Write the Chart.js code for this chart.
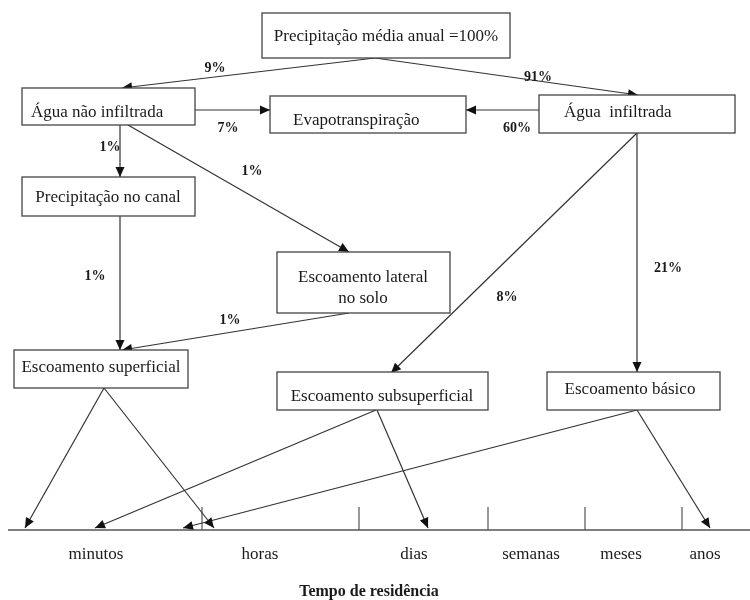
<!DOCTYPE html>
<html>
<head>
<meta charset="utf-8">
<script src="https://cdn.jsdelivr.net/npm/chart.js@4/dist/chart.umd.min.js"></script>
<style>
html,body{margin:0;padding:0;background:#fff;}
canvas{display:block;}
</style>
</head>
<body>
<canvas id="c" width="750" height="600"></canvas>
<script>
// ---- data ----
const nodeNames = [
  'Precipitação média anual =100%',
  'Água não infiltrada',
  'Evapotranspiração',
  'Água  infiltrada',
  'Precipitação no canal',
  'Escoamento lateral\nno solo',
  'Escoamento superficial',
  'Escoamento subsuperficial',
  'Escoamento básico'
];
const flowFrom    = [0, 0, 1, 3, 1, 1, 4, 5, 3, 3];
const flowTo      = [1, 3, 2, 2, 4, 5, 6, 6, 7, 8];
const flowPercent = ['9%', '91%', '7%', '60%', '1%', '1%', '1%', '1%', '8%', '21%'];
const timeLabels  = ['minutos', 'horas', 'dias', 'semanas', 'meses', 'anos'];
const residenceFrom = [6, 6, 7, 7, 8, 8];
const residenceTo   = [0, 1, 0, 2, 1, 5];
const axisTitle = 'Tempo de residência';

// ---- layout (diagram coordinates) ----
const nodeBox = [[262,13,510,58],[22,88,195,125],[270,96,466,133],[539,95,735,133],[22,177,195,216],[277,252,450,313],[14,350,188,388],[277,372,488,410],[547,372,720,410]];
const nodeTextPos = [[386,37,'center'],[31,113,'left'],[293,121,'left'],[564,113,'left'],[108,198,'center'],[363,278,'center'],[101,368,'center'],[382,397,'center'],[630,390,'center']];
const flowLine = [[375,58,122,88],[375,58,638,95],[195,110,270,110],[539,110,466,110],[120,125,120,177],[128,125,349,252],[120,216,120,350],[349,313,122,350],[637,133,391,373],[637,133,637,372]];
const flowLabelPos = [[215,68],[538,77],[228,128],[517,128],[110,147],[252,171],[95,276],[230,320],[507,297],[668,268]];
const residenceStart = [[104,388],[104,388],[376,410],[377,410],[637,410],[637,410]];
const timeLabelX = [96,260,414,531,621,705];
const timeTickX = [202,359,488,585,682];
const axisY = 530, axisX0 = 8, axisX1 = 750, tickTop = 507, labelY = 555;
const titlePos = [369,592];
const lineColor = '#333';
const textColor = '#1a1a1a';

// build line datasets through the scales
const datasets = [];
flowLine.forEach((l,i)=>{
  datasets.push({label: flowPercent[i], data:[{x:l[0],y:l[1]},{x:l[2],y:l[3]}], showLine:true, borderColor:lineColor, borderWidth:1.2, pointRadius:0, arrow:true});
});
residenceFrom.forEach((f,i)=>{
  const s = residenceStart[i];
  datasets.push({label: nodeNames[f]+'→'+timeLabels[residenceTo[i]], data:[{x:s[0],y:s[1]},{x:timeLabelX[residenceTo[i]]<0?0:null,y:null}], showLine:true, borderColor:lineColor, borderWidth:1.2, pointRadius:0, arrow:true});
});
// residence arrow tips on the time axis
const residenceTipX = [25,214,95,428,183,710];
residenceFrom.forEach((f,i)=>{
  datasets[flowLine.length+i].data[1] = {x:residenceTipX[i], y:axisY-2};
});
// axis line
datasets.push({label:'axis', data:[{x:axisX0,y:axisY},{x:axisX1,y:axisY}], showLine:true, borderColor:'#555', borderWidth:1.5, pointRadius:0});
timeTickX.forEach(t=>{
  datasets.push({label:'tick', data:[{x:t,y:tickTop},{x:t,y:axisY}], showLine:true, borderColor:'#555', borderWidth:1.2, pointRadius:0});
});

const diagramPlugin = {
  id:'diagram',
  afterDatasetsDraw(chart){
    const ctx = chart.ctx, xs = chart.scales.x, ys = chart.scales.y;
    const px = v=>xs.getPixelForValue(v), py = v=>ys.getPixelForValue(v);
    ctx.save();
    // arrowheads
    chart.data.datasets.forEach(ds=>{
      if(!ds.arrow) return;
      const a = ds.data[0], b = ds.data[1];
      const x1=px(a.x), y1=py(a.y), x2=px(b.x), y2=py(b.y);
      const ang = Math.atan2(y2-y1, x2-x1);
      const L=10, W=4.5;
      ctx.beginPath();
      ctx.moveTo(x2,y2);
      ctx.lineTo(x2-L*Math.cos(ang)+W*Math.sin(ang), y2-L*Math.sin(ang)-W*Math.cos(ang));
      ctx.lineTo(x2-L*Math.cos(ang)-W*Math.sin(ang), y2-L*Math.sin(ang)+W*Math.cos(ang));
      ctx.closePath();
      ctx.fillStyle = '#111';
      ctx.fill();
    });
    // boxes
    ctx.strokeStyle = '#444';
    ctx.lineWidth = 1.3;
    nodeBox.forEach((b,i)=>{
      const x=px(b[0]), y=py(b[1]), w=px(b[2])-x, h=py(b[3])-y;
      ctx.fillStyle='#fff';
      ctx.fillRect(x,y,w,h);
      ctx.strokeRect(x,y,w,h);
      const tp = nodeTextPos[i];
      ctx.fillStyle = textColor;
      ctx.font = '17px "Liberation Serif", "Times New Roman", serif';
      ctx.textAlign = tp[2];
      ctx.textBaseline = 'middle';
      nodeNames[i].split('\n').forEach((ln,k)=>{
        ctx.fillText(ln, px(tp[0]), py(tp[1]+k*21));
      });
    });
    // flow labels
    ctx.font = 'bold 14px "Liberation Serif", "Times New Roman", serif';
    ctx.textAlign = 'center';
    ctx.fillStyle = textColor;
    flowPercent.forEach((p,i)=>{
      ctx.fillText(p, px(flowLabelPos[i][0]), py(flowLabelPos[i][1]));
    });
    // time labels
    ctx.font = '17px "Liberation Serif", "Times New Roman", serif';
    timeLabels.forEach((t,i)=>{
      ctx.fillText(t, px(timeLabelX[i]), py(labelY));
    });
    ctx.font = 'bold 16px "Liberation Serif", "Times New Roman", serif';
    ctx.fillText(axisTitle, px(titlePos[0]), py(titlePos[1]));
    ctx.restore();
  }
};

new Chart(document.getElementById('c'), {
  type:'scatter',
  data:{datasets},
  options:{
    responsive:false,
    animation:false,
    layout:{padding:0},
    plugins:{legend:{display:false}, tooltip:{enabled:false}},
    scales:{
      x:{type:'linear', min:0, max:750, display:false},
      y:{type:'linear', min:0, max:600, reverse:true, display:false}
    }
  },
  plugins:[diagramPlugin]
});
</script>
</body>
</html>
